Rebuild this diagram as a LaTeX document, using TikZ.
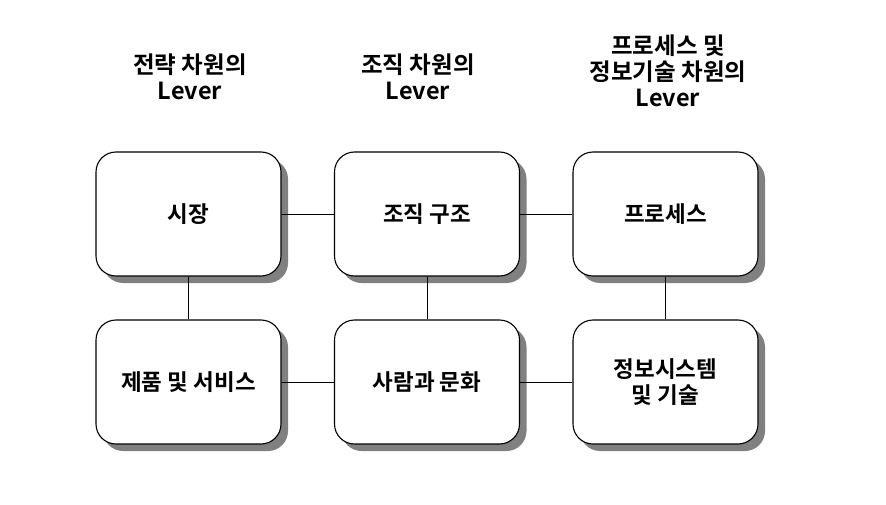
\documentclass[tikz,border=0pt]{standalone}
\usepackage{fontspec}
\setmainfont{Noto Sans CJK KR Bold}
\usetikzlibrary{shadows}
\begin{document}
\begin{tikzpicture}[x=1pt,y=-1pt,
  box/.style={draw=black, line width=1.1pt, fill=white, rounded corners=20pt,
    minimum width=185pt, minimum height=124pt, inner sep=0pt, align=center,
    font=\fontsize{22.5}{26}\selectfont,
    drop shadow={shadow xshift=7pt, shadow yshift=-7pt, fill=black!50, opacity=1}},
  head/.style={align=center, font=\fontsize{23.5}{26}\selectfont, inner sep=0pt},
  link/.style={draw=black, line width=0.8pt}]
\useasboundingbox (0,0) rectangle (886,505);
\node[head] (h1) at (190,77) {전략 차원의\\Lever};
\node[head] (h2) at (418,77) {조직 차원의\\Lever};
\node[head] (h3) at (668,71) {프로세스 및\\정보기술 차원의\\Lever};
\node[box] (a1) at (188.5,214) {시장};
\node[box] (a2) at (427,214) {조직 구조};
\node[box] (a3) at (665.5,214) {프로세스};
\node[box] (b1) at (188.5,382) {제품 및 서비스};
\node[box] (b2) at (427,382) {사람과 문화};
\node[box] (b3) at (665.5,382) {정보시스템\\ 및 기술};
\draw[link] (a1.east) -- (a2.west);
\draw[link] (a2.east) -- (a3.west);
\draw[link] (b1.east) -- (b2.west);
\draw[link] (b2.east) -- (b3.west);
\draw[link] (a1.south) -- (b1.north);
\draw[link] (a2.south) -- (b2.north);
\draw[link] (a3.south) -- (b3.north);
\end{tikzpicture}
\end{document}
